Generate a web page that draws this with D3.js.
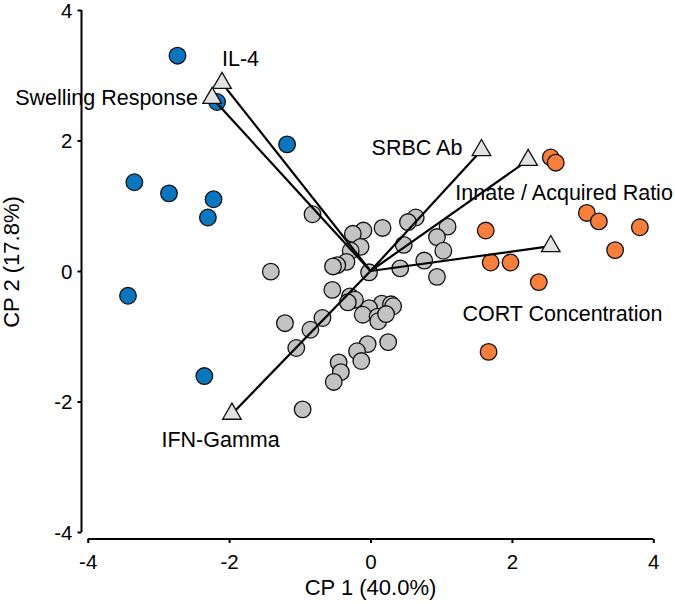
<!DOCTYPE html>
<html>
<head>
<meta charset="utf-8">
<script src="https://cdn.jsdelivr.net/npm/d3@7"></script>
<style>
  html, body { margin: 0; padding: 0; background: #fff; }
  svg text { font-family: "Liberation Sans", Arial, Helvetica, sans-serif; fill: #000; }
</style>
</head>
<body>
<div id="chart"></div>
<script>
// ---- data ----
const xTicks = [-4, -2, 0, 2, 4];
const yTicks = [-4, -2, 0, 2, 4];
const xTitle = "CP 1 (40.0%)";
const yTitle = "CP 2 (17.8%)";

// gray group scores
const grayX = [-0.82, 0.64, 0.53, 0.17, 1.09, -0.10, -0.25, 0.94, 0.47, -0.14, -0.28, 1.03, -0.34, -0.47, -0.53, 0.76, -1.41, 0.42, -0.02, 0.94,
  -0.54, -0.29, -0.22, -0.32, 0.16, 0.29, 0.32, -0.02, -0.11, 0.10, 0.11, 0.22, -0.68, -1.21, -0.85, -1.05, 0.25, -0.04, -0.19, -0.13, -0.45, -0.42, -0.52, -0.96];
const grayY = [0.87, 0.82, 0.75, 0.66, 0.68, 0.62, 0.57, 0.52, 0.40, 0.37, 0.31, 0.31, 0.14, 0.09, 0.07, 0.16, -0.01, 0.04, -0.02, -0.09,
  -0.29, -0.39, -0.44, -0.48, -0.50, -0.51, -0.54, -0.57, -0.67, -0.70, -0.77, -0.66, -0.72, -0.80, -0.90, -1.18, -1.09, -1.12, -1.23, -1.38, -1.40, -1.55, -1.70, -2.12];

// blue group scores
const blueX = [-2.73, -2.17, -1.18, -3.34, -2.85, -2.22, -2.30, -3.43, -2.35];
const blueY = [3.30, 2.59, 1.94, 1.36, 1.19, 1.10, 0.82, -0.38, -1.61];

// orange group scores
const orangeX = [2.55, 2.62, 3.06, 3.23, 3.81, 1.63, 3.46, 1.70, 1.98, 2.38, 1.67];
const orangeY = [1.74, 1.66, 0.89, 0.76, 0.67, 0.62, 0.32, 0.13, 0.13, -0.17, -1.24];

// variable loadings (arrow tips)
const loadNames = ["IL-4", "Swelling Response", "SRBC Ab", "Innate / Acquired Ratio", "CORT Concentration", "IFN-Gamma"];
const loadX = [-2.10, -2.24, 1.57, 2.23, 2.55, -1.96];
const loadY = [2.88, 2.65, 1.85, 1.70, 0.38, -2.19];
// label anchor points (data units) and alignment
const labelX = [-2.10, -2.44, 1.30, 1.20, 1.30, -2.12];
const labelY = [3.26, 2.67, 1.90, 1.21, -0.64, -2.58];
const labelAnchor = ["start", "end", "end", "start", "start", "middle"];

// ---- layout ----
const W = 675, H = 604;
const x = d3.scaleLinear().domain([-4, 4]).range([87.7, 653.3]);
const y = d3.scaleLinear().domain([-4, 4]).range([532, 10]);
const FS = 21.5, TFS = 22, TickFS = 20.5;

const svg = d3.select("#chart").append("svg")
  .attr("width", W).attr("height", H);

// axes
const yAxisX = 81.5, xAxisY = 539;
const fmt = d => String(d);
const xAxis = d3.axisBottom(x).tickValues(xTicks).tickSize(4).tickPadding(11).tickFormat(fmt);
const yAxis = d3.axisLeft(y).tickValues(yTicks).tickSize(4).tickPadding(5).tickFormat(fmt);

const gx = svg.append("g").attr("transform", `translate(0,${xAxisY})`).call(xAxis);
const gy = svg.append("g").attr("transform", `translate(${yAxisX},0)`).call(yAxis);
[gx, gy].forEach(g => {
  g.select(".domain").attr("stroke", "#000").attr("stroke-width", 2);
  g.selectAll(".tick line").attr("stroke", "#000").attr("stroke-width", 2);
  g.selectAll(".tick text").attr("font-size", TickFS).attr("font-family", "Liberation Sans, Arial, sans-serif").attr("fill", "#000");
});
gx.select(".domain").attr("d", `M${x(-4)},0H${x(4)}`);
gy.select(".domain").attr("d", `M0,${y(4)}V${y(-4)}`);
gy.selectAll(".tick text").attr("dy", "0.36em");

svg.append("text")
  .attr("x", x(0)).attr("y", 595)
  .attr("text-anchor", "middle").attr("font-size", TFS)
  .text(xTitle);
svg.append("text")
  .attr("transform", `translate(19,262) rotate(-90)`)
  .attr("text-anchor", "middle").attr("font-size", TFS)
  .text(yTitle);

// points
const R = 8.3;
function drawPts(xs, ys, fill) {
  svg.append("g").selectAll("circle")
    .data(xs.map((v, i) => [v, ys[i]]))
    .join("circle")
    .attr("cx", d => x(d[0])).attr("cy", d => y(d[1]))
    .attr("r", R).attr("fill", fill)
    .attr("stroke", "#111").attr("stroke-width", 1.3);
}
drawPts(grayX, grayY, "#c3c3c3");
drawPts(blueX, blueY, "#0a76bf");
drawPts(orangeX, orangeY, "#f77f3b");

// loading arrows
const loads = loadNames.map((n, i) => ({ n, x: loadX[i], y: loadY[i], lx: labelX[i], ly: labelY[i], a: labelAnchor[i] }));
svg.append("g").selectAll("line").data(loads).join("line")
  .attr("x1", x(0)).attr("y1", y(0))
  .attr("x2", d => x(d.x)).attr("y2", d => y(d.y))
  .attr("stroke", "#000").attr("stroke-width", 2.2);

const tri = d3.symbol().type(d3.symbolTriangle).size(150);
svg.append("g").selectAll("path").data(loads).join("path")
  .attr("d", tri)
  .attr("transform", d => `translate(${x(d.x)},${y(d.y)})`)
  .attr("fill", "#e3e3e3").attr("stroke", "#111").attr("stroke-width", 1.3);

svg.append("g").selectAll("text").data(loads).join("text")
  .attr("x", d => x(d.lx)).attr("y", d => y(d.ly))
  .attr("dy", "0.36em")
  .attr("text-anchor", d => d.a)
  .attr("font-size", FS)
  .text(d => d.n);
</script>
</body>
</html>
